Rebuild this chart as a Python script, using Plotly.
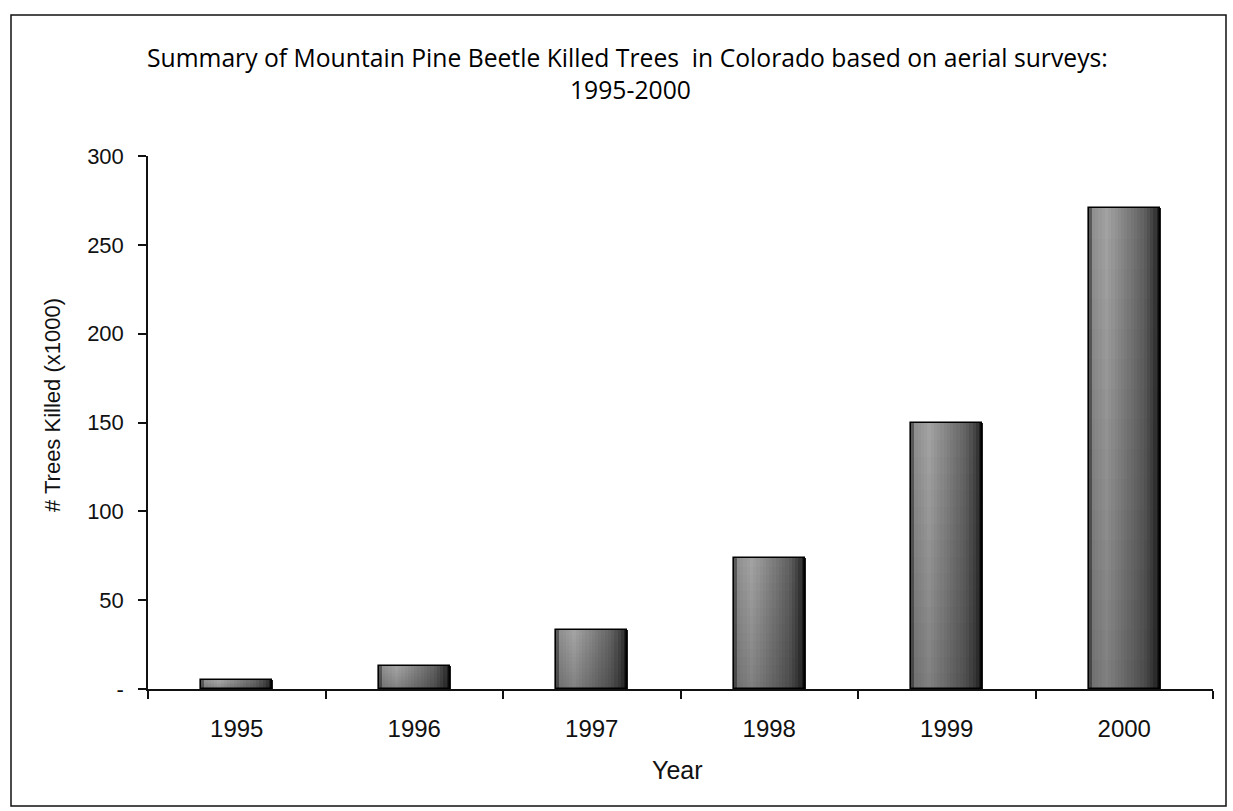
import plotly.graph_objects as go

# --- data -------------------------------------------------------------
years = ["1995", "1996", "1997", "1998", "1999", "2000"]
trees_killed_thousands = [5, 13, 33, 74, 150, 271]
y_tick_values = [0, 50, 100, 150, 200, 250, 300]
y_tick_labels = ["-", "50", "100", "150", "200", "250", "300"]

title_line1 = "Summary of Mountain Pine Beetle Killed Trees  in Colorado based on aerial surveys:"
title_line2 = "1995-2000"
x_title = "Year"
y_title = "# Trees Killed (x1000)"

# --- page geometry (pixels) ------------------------------------------
W, H = 1233, 811
ML, MR, MT, MB = 148, 20, 156, 122
PW = W - ML - MR
PH = H - MT - MB


def px_x(x):
    return (x - ML) / PW


def px_y(y):
    return (H - MB - y) / PH


# --- shaded bars: horizontal + vertical gray gradient ------------------
BAR_W = 0.40
N_COLS = 22
N_ROWS = 16
ROW_OVERLAP = 0.6  # data units, hides seams between stacked bands


def lerp_profile(t, pts):
    for (t0, v0), (t1, v1) in zip(pts, pts[1:]):
        if t0 <= t <= t1:
            f = (t - t0) / (t1 - t0) if t1 > t0 else 0
            return v0 + f * (v1 - v0)
    return pts[-1][1]


h_profile = [(0.0, 0.18), (0.05, 0.56), (0.25, 0.64), (0.5, 0.52),
             (0.78, 0.38), (0.92, 0.24), (1.0, 0.08)]


def gray(tx, ty):
    v = lerp_profile(tx, h_profile) * (0.78 + 0.22 * ty)
    g = max(0, min(255, int(round(v * 255))))
    return f"rgb({g},{g},{g})"


fig = go.Figure()
col_w = BAR_W / N_COLS
for i in range(N_COLS):
    tx = (i + 0.5) / N_COLS
    for j in range(N_ROWS):
        ty = (j + 0.5) / N_ROWS
        lift = 0 if j == 0 else ROW_OVERLAP
        fig.add_trace(go.Bar(
            x=years,
            y=[v / N_ROWS + lift for v in trees_killed_thousands],
            base=[v * j / N_ROWS - lift for v in trees_killed_thousands],
            width=col_w * 1.25,
            offset=-BAR_W / 2 + i * col_w,
            marker=dict(color=gray(tx, ty), line=dict(width=0)),
            hoverinfo="skip",
            showlegend=False,
        ))

# outline of each bar
fig.add_trace(go.Bar(
    x=years,
    y=trees_killed_thousands,
    width=BAR_W,
    offset=-BAR_W / 2,
    marker=dict(color="rgba(0,0,0,0)", line=dict(color="#000000", width=1.6)),
    showlegend=False,
    hovertemplate="%{x}: %{y}<extra></extra>",
))

axis_font = dict(family="Liberation Sans, Arial, sans-serif", size=22, color="#111111")
title_font = dict(family="Open Sans, sans-serif", size=24.7, color="#000000")

fig.update_layout(
    width=W, height=H,
    margin=dict(l=ML, r=MR, t=MT, b=MB),
    paper_bgcolor="white",
    plot_bgcolor="white",
    barmode="overlay",
    bargap=0,
    showlegend=False,
    xaxis=dict(
        type="category",
        showgrid=False, zeroline=False,
        showline=True, linecolor="#111111", linewidth=1.5,
        ticks="outside", tickson="boundaries", ticklen=8, tickwidth=1.5,
        tickcolor="#111111",
        tickfont=dict(family="Liberation Sans, Arial, sans-serif", size=24, color="#111111"),
        ticklabelstandoff=17,
    ),
    yaxis=dict(
        range=[0, 300],
        tickvals=y_tick_values, ticktext=y_tick_labels,
        showgrid=False, zeroline=False,
        showline=True, linecolor="#111111", linewidth=1.5,
        ticks="outside", ticklen=8, tickwidth=1.5, tickcolor="#111111",
        tickfont=axis_font,
        ticklabelstandoff=10,
    ),
    shapes=[
        dict(type="rect", xref="paper", yref="paper",
             x0=px_x(11), x1=px_x(1226), y0=px_y(806), y1=px_y(15),
             line=dict(color="#111111", width=1.5), fillcolor="rgba(0,0,0,0)"),
    ],
    annotations=[
        dict(text=title_line1, xref="paper", yref="paper",
             x=px_x(627), y=px_y(57), xanchor="center", yanchor="middle",
             showarrow=False, font=title_font),
        dict(text=title_line2, xref="paper", yref="paper",
             x=px_x(630), y=px_y(89), xanchor="center", yanchor="middle",
             showarrow=False, font=title_font),
        dict(text=x_title, xref="paper", yref="paper",
             x=px_x(677), y=px_y(770), xanchor="center", yanchor="middle",
             showarrow=False,
             font=dict(family="Liberation Sans, Arial, sans-serif", size=25, color="#111111")),
        dict(text=y_title, xref="paper", yref="paper",
             x=px_x(52), y=px_y(405), xanchor="center", yanchor="middle",
             textangle=-90, showarrow=False,
             font=dict(family="Liberation Sans, Arial, sans-serif", size=22, color="#111111")),
    ],
)

fig.write_html("out.html")
